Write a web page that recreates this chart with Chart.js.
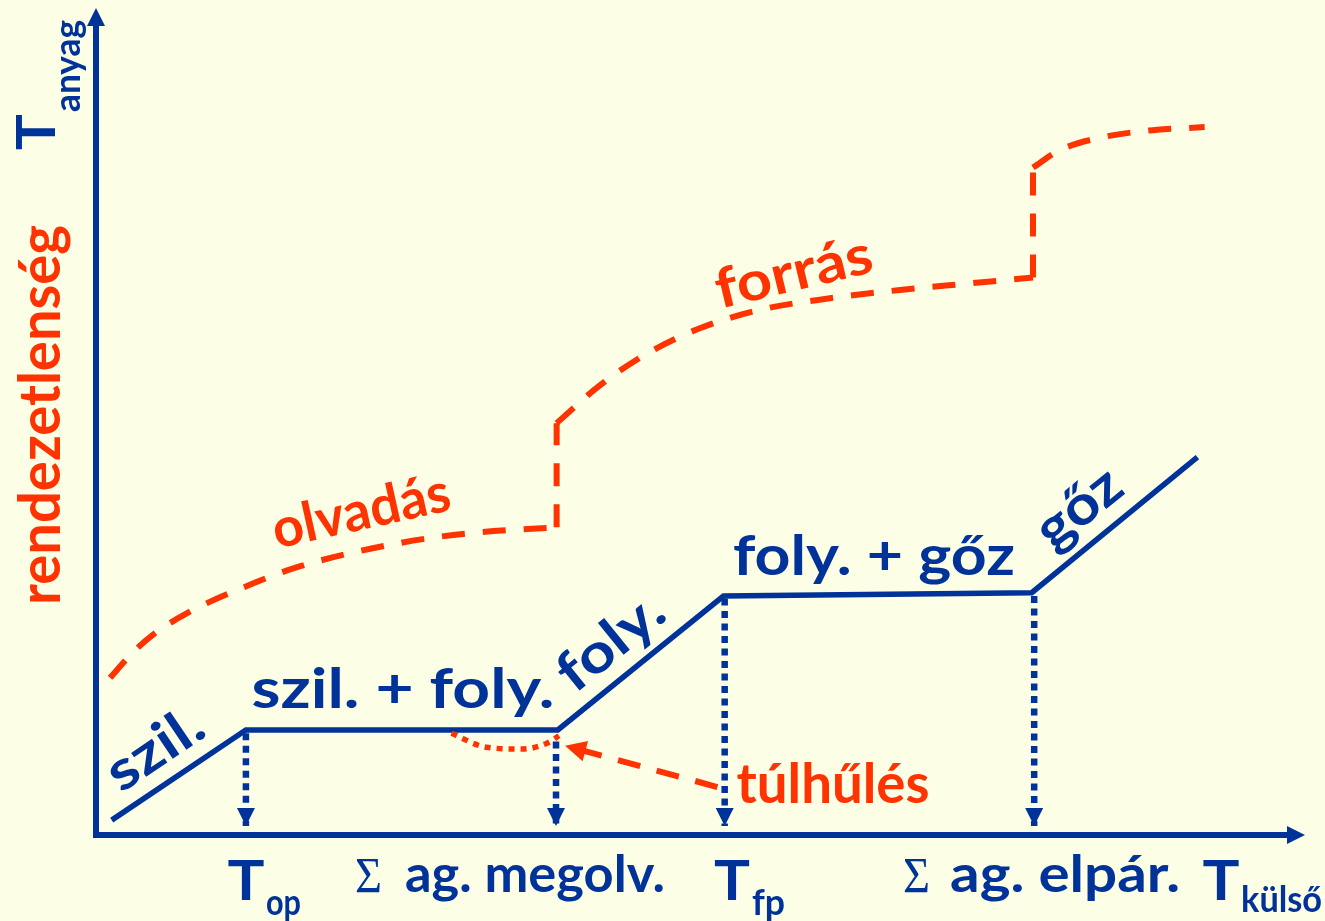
<!DOCTYPE html>
<html>
<head>
<meta charset="utf-8">
<script src="https://cdn.jsdelivr.net/npm/chart.js@4"></script>
<style>
  html, body { margin: 0; padding: 0; background: #FDFEE6; }
  #wrap { width: 1325px; height: 921px; position: relative; }
</style>
</head>
<body>
<div id="wrap"><canvas id="phaseChart"></canvas></div>
<script>
const BLUE = '#003399';
const RED = '#FF3300';
const BG = '#FDFEE6';
const SANS = 'Lato, "Open Sans", "DejaVu Sans", sans-serif';
const SERIF = '"Liberation Serif", "DejaVu Serif", serif';

// heating curve: T anyag against T külső (arbitrary 0..100 units)
const heatX = [1.3, 12.4, 38.2, 51.9, 77.4, 91.1];
const heatY = [1.8, 12.7, 12.7, 28.9, 29.3, 45.7];

// transition temperatures (dotted drop arrows)
const dropX = [12.4, 38.05, 52.0, 77.6];
const dropTop = [12.3, 11.3, 28.6, 28.9];
const dropBottom = 1.1;

// disorder (rendezetlenség) curve, split at the two jumps
const solidX = [1.16, 3.0, 4.7, 7.5, 12.3, 16.9, 25.1, 30.9, 38.1];
const solidY = [19.0, 22.0, 24.2, 26.8, 30.0, 32.5, 35.3, 36.5, 37.2];
const liquidX = [38.1, 41.7, 45.8, 50.0, 54.9, 60.7, 66.5, 72.3, 77.5];
const liquidY = [49.8, 54.4, 58.4, 61.3, 63.5, 64.9, 65.9, 66.7, 67.4];
const gasX = [77.5, 79.7, 83.0, 87.2, 91.7];
const gasY = [80.7, 82.8, 84.3, 85.2, 85.6];
const jumpX = [38.1, 77.5];
const jumpFrom = [37.2, 67.4];
const jumpTo = [49.8, 80.7];

// supercooling dip and its pointer
const superX = [29.4, 32.3, 35.3, 37.3, 38.3];
const superY = [12.3, 10.6, 10.4, 11.1, 12.0];
const pointerX = [51.4, 38.8];
const pointerY = [5.8, 10.8];

// texts
const phaseLabels = ['szil.', 'szil. + foly.', 'foly.', 'foly. + gőz', 'gőz'];
const processLabels = ['olvadás', 'forrás', 'túlhűlés'];
const yTitle = ['T', 'anyag'];
const disorderTitle = 'rendezetlenség';
const tickMain = ['T', 'ag. megolv.', 'T', 'ag. elpár.', 'T'];
const tickSub = ['op', '', 'fp', '', 'külső'];
const tickSigma = [false, true, false, true, false];

const pts = (xs, ys) => xs.map((x, i) => ({ x: x, y: ys[i] }));

// label placement (data units, baseline anchor)
const phasePos = [
  { x: 5.71, y: 8.59, rot: -34, w: 106 },
  { x: 25.39, y: 15.36, rot: 0, w: 303 },
  { x: 43.51, y: 21.64, rot: -39, w: 122 },
  { x: 64.35, y: 31.44, rot: 0, w: 282 },
  { x: 82.22, y: 37.85, rot: -39, w: 95 }
];
const processPos = [
  { x: 22.25, y: 36.99, rot: -12.5, w: 181 },
  { x: 58.07, y: 65.9, rot: -13.5, w: 160 },
  { x: 60.96, y: 3.87, rot: 0, w: 193 }
];
const tickPos = [
  { x: 12.41, sx: 14.06, sy: -9.67, w: 37, sw: 35 },
  { x: 25.56, sigma: 21.42, w: 260 },
  { x: 52.6, sx: 54.26, sy: -9.67, w: 36, sw: 33 },
  { x: 70.64, sigma: 66.75, w: 230 },
  { x: 93.05, sx: 94.71, sy: -9.31, w: 37, sw: 81 }
];

function drawLabel(ctx, text, px, py, o) {
  ctx.save();
  ctx.translate(px, py);
  ctx.rotate((o.rot || 0) * Math.PI / 180);
  ctx.font = o.font;
  ctx.fillStyle = o.color;
  ctx.textAlign = o.align || 'center';
  ctx.textBaseline = 'alphabetic';
  if (o.width) {
    const w = ctx.measureText(text).width;
    ctx.scale(o.width / w, 1);
  }
  ctx.fillText(text, 0, 0);
  ctx.restore();
}

const diagramPlugin = {
  id: 'diagram',
  beforeDraw(chart) {
    const ctx = chart.ctx;
    ctx.save();
    ctx.fillStyle = BG;
    ctx.fillRect(0, 0, chart.width, chart.height);
    ctx.restore();
  },
  beforeDatasetsDraw(chart) {
    const ctx = chart.ctx;
    const xs = chart.scales.x, ys = chart.scales.y;
    const x0 = xs.getPixelForValue(0), y0 = ys.getPixelForValue(0);
    const xEnd = xs.getPixelForValue(100), yEnd = ys.getPixelForValue(100);
    ctx.save();
    ctx.strokeStyle = BLUE;
    ctx.fillStyle = BLUE;
    ctx.lineWidth = 6;
    ctx.lineJoin = 'miter';
    ctx.beginPath();
    ctx.moveTo(x0, yEnd + 16);
    ctx.lineTo(x0, y0);
    ctx.lineTo(xEnd - 16, y0);
    ctx.stroke();
    ctx.beginPath();
    ctx.moveTo(x0, yEnd);
    ctx.lineTo(x0 - 9, yEnd + 18);
    ctx.lineTo(x0 + 9, yEnd + 18);
    ctx.closePath();
    ctx.fill();
    ctx.beginPath();
    ctx.moveTo(xEnd, y0);
    ctx.lineTo(xEnd - 18, y0 - 9);
    ctx.lineTo(xEnd - 18, y0 + 9);
    ctx.closePath();
    ctx.fill();
    ctx.restore();
  },
  afterDatasetsDraw(chart) {
    const ctx = chart.ctx;
    const xs = chart.scales.x, ys = chart.scales.y;
    const X = v => xs.getPixelForValue(v), Y = v => ys.getPixelForValue(v);

    // arrow heads at the end of flagged datasets
    chart.data.datasets.forEach((ds, i) => {
      if (!ds.arrowHead) return;
      const pe = chart.getDatasetMeta(i).data;
      const a = pe[pe.length - 2], b = pe[pe.length - 1];
      const ang = Math.atan2(b.y - a.y, b.x - a.x);
      const L = ds.arrowHead.len, H = ds.arrowHead.width / 2;
      ctx.save();
      ctx.translate(b.x, b.y);
      ctx.rotate(ang);
      ctx.fillStyle = ds.borderColor;
      ctx.beginPath();
      ctx.moveTo(0, 0);
      ctx.lineTo(-L, -H);
      ctx.lineTo(-L, H);
      ctx.closePath();
      ctx.fill();
      ctx.restore();
    });

    phaseLabels.forEach((t, i) => {
      const p = phasePos[i];
      drawLabel(ctx, t, X(p.x), Y(p.y), { rot: p.rot, width: p.w, color: BLUE, font: 'bold 55px ' + SANS });
    });
    processLabels.forEach((t, i) => {
      const p = processPos[i];
      drawLabel(ctx, t, X(p.x), Y(p.y), { rot: p.rot, width: p.w, color: RED, font: 'bold 55px ' + SANS });
    });

    // vertical axis titles
    drawLabel(ctx, disorderTitle, X(-2.98), Y(50.79), { rot: -90, width: 380, color: RED, font: 'bold 57px ' + SANS });
    drawLabel(ctx, yTitle[0], X(-3.39), Y(84.97), { rot: -90, width: 36, color: BLUE, font: 'bold 54px ' + SANS });
    drawLabel(ctx, yTitle[1], X(-1.32), Y(92.99), { rot: -90, width: 92, color: BLUE, font: 'bold 37px ' + SANS });

    // bottom tick labels
    tickMain.forEach((t, i) => {
      const p = tickPos[i];
      if (tickSigma[i]) {
        drawLabel(ctx, 'Σ', X(p.sigma), Y(-6.89), { align: 'left', width: 27, color: BLUE, font: '50px ' + SERIF });
        drawLabel(ctx, t, X(p.x), Y(-6.89), { align: 'left', width: p.w, color: BLUE, font: 'bold 51px ' + SANS });
      } else {
        drawLabel(ctx, t, X(p.x), Y(-7.86), { width: p.w, color: BLUE, font: 'bold 55px ' + SANS });
        drawLabel(ctx, tickSub[i], X(p.sx), Y(p.sy), { align: 'left', width: p.sw, color: BLUE, font: 'bold 36px ' + SANS });
      }
    });
  }
};

const redDash = [23, 18];
const datasets = [
  { data: pts(superX, superY), borderColor: RED, borderWidth: 5.5, borderDash: [6, 6], cubicInterpolationMode: 'monotone' },
  { data: pts(pointerX, pointerY), borderColor: RED, borderWidth: 6, borderDash: [23, 17], arrowHead: { len: 21, width: 21 } },
  { data: pts(heatX, heatY), borderColor: BLUE, borderWidth: 5.5 },
  { data: pts(solidX, solidY), borderColor: RED, borderWidth: 6, borderDash: redDash, cubicInterpolationMode: 'monotone' },
  { data: pts(liquidX, liquidY), borderColor: RED, borderWidth: 6, borderDash: redDash, cubicInterpolationMode: 'monotone' },
  { data: pts(gasX, gasY), borderColor: RED, borderWidth: 6, borderDash: redDash, cubicInterpolationMode: 'monotone' }
];
jumpX.forEach((x, i) => {
  datasets.push({ data: pts([x, x], [jumpFrom[i], jumpTo[i]]), borderColor: RED, borderWidth: 6, borderDash: redDash });
});
dropX.forEach((x, i) => {
  datasets.push({ data: pts([x, x], [dropTop[i], dropBottom]), borderColor: BLUE, borderWidth: 6.5, borderDash: [7, 5.5], arrowHead: { len: 18, width: 18 } });
});

const chart = new Chart(document.getElementById('phaseChart').getContext('2d'), {
  type: 'line',
  data: { datasets: datasets },
  options: {
    responsive: true,
    maintainAspectRatio: false,
    animation: false,
    events: [],
    layout: { padding: { left: 96, right: 20, top: 8, bottom: 86 } },
    plugins: { legend: { display: false }, tooltip: { enabled: false } },
    elements: { point: { radius: 0 }, line: { tension: 0, borderCapStyle: 'butt', fill: false } },
    scales: {
      x: { type: 'linear', min: 0, max: 100, display: false },
      y: { type: 'linear', min: 0, max: 100, display: false }
    }
  },
  plugins: [diagramPlugin]
});
</script>
</body>
</html>
